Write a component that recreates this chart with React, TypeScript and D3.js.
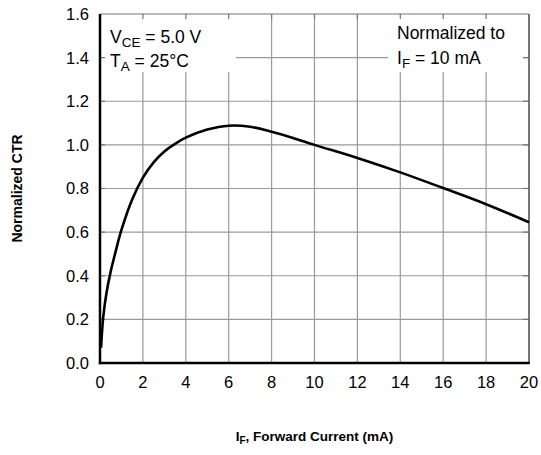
import { useEffect, useRef } from 'react';
import * as d3 from 'd3';

// I_F (mA) vs normalized CTR
const forwardCurrent = [0.05, 0.15, 0.3, 0.5, 0.7, 1.0, 1.5, 2, 2.5, 3, 3.5, 4, 5, 6, 7, 8, 9, 10, 12, 14, 16, 18, 20];
const normalizedCtr = [0.07, 0.21, 0.32, 0.42, 0.5, 0.61, 0.75, 0.85, 0.92, 0.97, 1.005, 1.033, 1.07, 1.088, 1.083, 1.06, 1.032, 1.0, 0.94, 0.874, 0.802, 0.728, 0.645];

const xTicks = [0, 2, 4, 6, 8, 10, 12, 14, 16, 18, 20];
const yTicks = [0, 0.2, 0.4, 0.6, 0.8, 1.0, 1.2, 1.4, 1.6];

const W = 541;
const H = 455;
const FONT = '"Liberation Sans", Arial, Helvetica, sans-serif';

export default function App() {
	const ref = useRef<SVGSVGElement | null>(null);

	useEffect(() => {
		if (!ref.current) return;
		const svg = d3.select(ref.current);
		svg.selectAll('*').remove();

		const left = 100;
		const right = 529;
		const top = 14;
		const bottom = 363;

		const x = d3.scaleLinear().domain([0, 20]).range([left, right]);
		const y = d3.scaleLinear().domain([0, 1.6]).range([bottom, top]);

		svg.append('rect').attr('width', W).attr('height', H).attr('fill', '#fff');

		// grid
		const grid = svg.append('g').attr('stroke', '#9a9a9a').attr('stroke-width', 1.2);
		xTicks.slice(1, -1).forEach(t => {
			grid.append('line').attr('x1', x(t)).attr('x2', x(t)).attr('y1', top).attr('y2', bottom);
		});
		yTicks.slice(1, -1).forEach(t => {
			grid.append('line').attr('x1', left).attr('x2', right).attr('y1', y(t)).attr('y2', y(t));
		});

		// white boxes behind the notes
		svg.append('rect').attr('x', left + 1).attr('y', top + 1).attr('width', 135).attr('height', 57).attr('fill', '#fff');
		svg.append('rect').attr('x', 388).attr('y', top + 1).attr('width', 135).attr('height', 57).attr('fill', '#fff');

		// inward ticks on all sides
		const ticks = svg.append('g').attr('stroke', '#777').attr('stroke-width', 1.2);
		xTicks.slice(1, -1).forEach(t => {
			ticks.append('line').attr('x1', x(t)).attr('x2', x(t)).attr('y1', top).attr('y2', top + 5);
		});
		yTicks.slice(1, -1).forEach(t => {
			ticks.append('line').attr('x1', left).attr('x2', left + 5).attr('y1', y(t)).attr('y2', y(t));
			ticks.append('line').attr('x1', right - 6).attr('x2', right).attr('y1', y(t)).attr('y2', y(t));
		});

		// frame
		svg.append('line').attr('x1', left).attr('x2', right).attr('y1', top).attr('y2', top)
			.attr('stroke', '#777').attr('stroke-width', 1.2);
		svg.append('line').attr('x1', right).attr('x2', right).attr('y1', top).attr('y2', bottom)
			.attr('stroke', '#555').attr('stroke-width', 1.6);
		svg.append('line').attr('x1', left).attr('x2', left).attr('y1', top).attr('y2', bottom + 1.2)
			.attr('stroke', '#000').attr('stroke-width', 2.5);
		svg.append('line').attr('x1', left - 1.2).attr('x2', right + 0.8).attr('y1', bottom).attr('y2', bottom)
			.attr('stroke', '#000').attr('stroke-width', 2.5);

		// curve
		const line = d3
			.line<number>()
			.x((_, i) => x(forwardCurrent[i]))
			.y(d => y(d))
			.curve(d3.curveCatmullRom.alpha(0.5));
		svg.append('path')
			.datum(normalizedCtr)
			.attr('fill', 'none')
			.attr('stroke', '#000')
			.attr('stroke-width', 2.6)
			.attr('stroke-linejoin', 'round')
			.attr('d', line);

		// tick labels
		const labels = svg.append('g').attr('font-family', FONT).attr('font-size', 16.5).attr('fill', '#000');
		yTicks.forEach(t => {
			labels.append('text').attr('x', 89).attr('y', y(t)).attr('dy', '0.36em')
				.attr('text-anchor', 'end').text(t.toFixed(1));
		});
		xTicks.forEach(t => {
			labels.append('text').attr('x', x(t)).attr('y', 388)
				.attr('text-anchor', 'middle').text(String(t));
		});

		// notes
		const notes = svg.append('g').attr('font-family', FONT).attr('font-size', 17.5).attr('fill', '#000');
		const v = notes.append('text').attr('x', 110).attr('y', 43);
		v.append('tspan').text('V');
		v.append('tspan').attr('dy', 4).attr('font-size', 13.5).text('CE');
		v.append('tspan').attr('dy', -4).text(' = 5.0 V');
		const ta = notes.append('text').attr('x', 110).attr('y', 67);
		ta.append('tspan').text('T');
		ta.append('tspan').attr('dy', 4).attr('font-size', 13.5).text('A');
		ta.append('tspan').attr('dy', -4).text(' = 25°C');
		notes.append('text').attr('x', 397).attr('y', 39).text('Normalized to');
		const f = notes.append('text').attr('x', 397).attr('y', 64);
		f.append('tspan').text('I');
		f.append('tspan').attr('dy', 4).attr('font-size', 13.5).text('F');
		f.append('tspan').attr('dy', -4).text(' = 10 mA');

		// axis titles
		const xt = svg.append('text').attr('x', (left + right) / 2).attr('y', 441)
			.attr('text-anchor', 'middle').attr('font-family', FONT).attr('font-weight', 'bold').attr('font-size', 13.5);
		xt.append('tspan').text('I');
		xt.append('tspan').attr('dy', 3).attr('font-size', 10).text('F');
		xt.append('tspan').attr('dy', -3).text(', Forward Current (mA)');

		svg.append('text')
			.attr('transform', `translate(22, ${(top + bottom) / 2}) rotate(-90)`)
			.attr('text-anchor', 'middle').attr('font-family', FONT).attr('font-weight', 'bold').attr('font-size', 14)
			.text('Normalized CTR');
	}, []);

	return <svg ref={ref} width={W} height={H} style={{ position: 'absolute', left: 0, top: 0 }} />;
}
